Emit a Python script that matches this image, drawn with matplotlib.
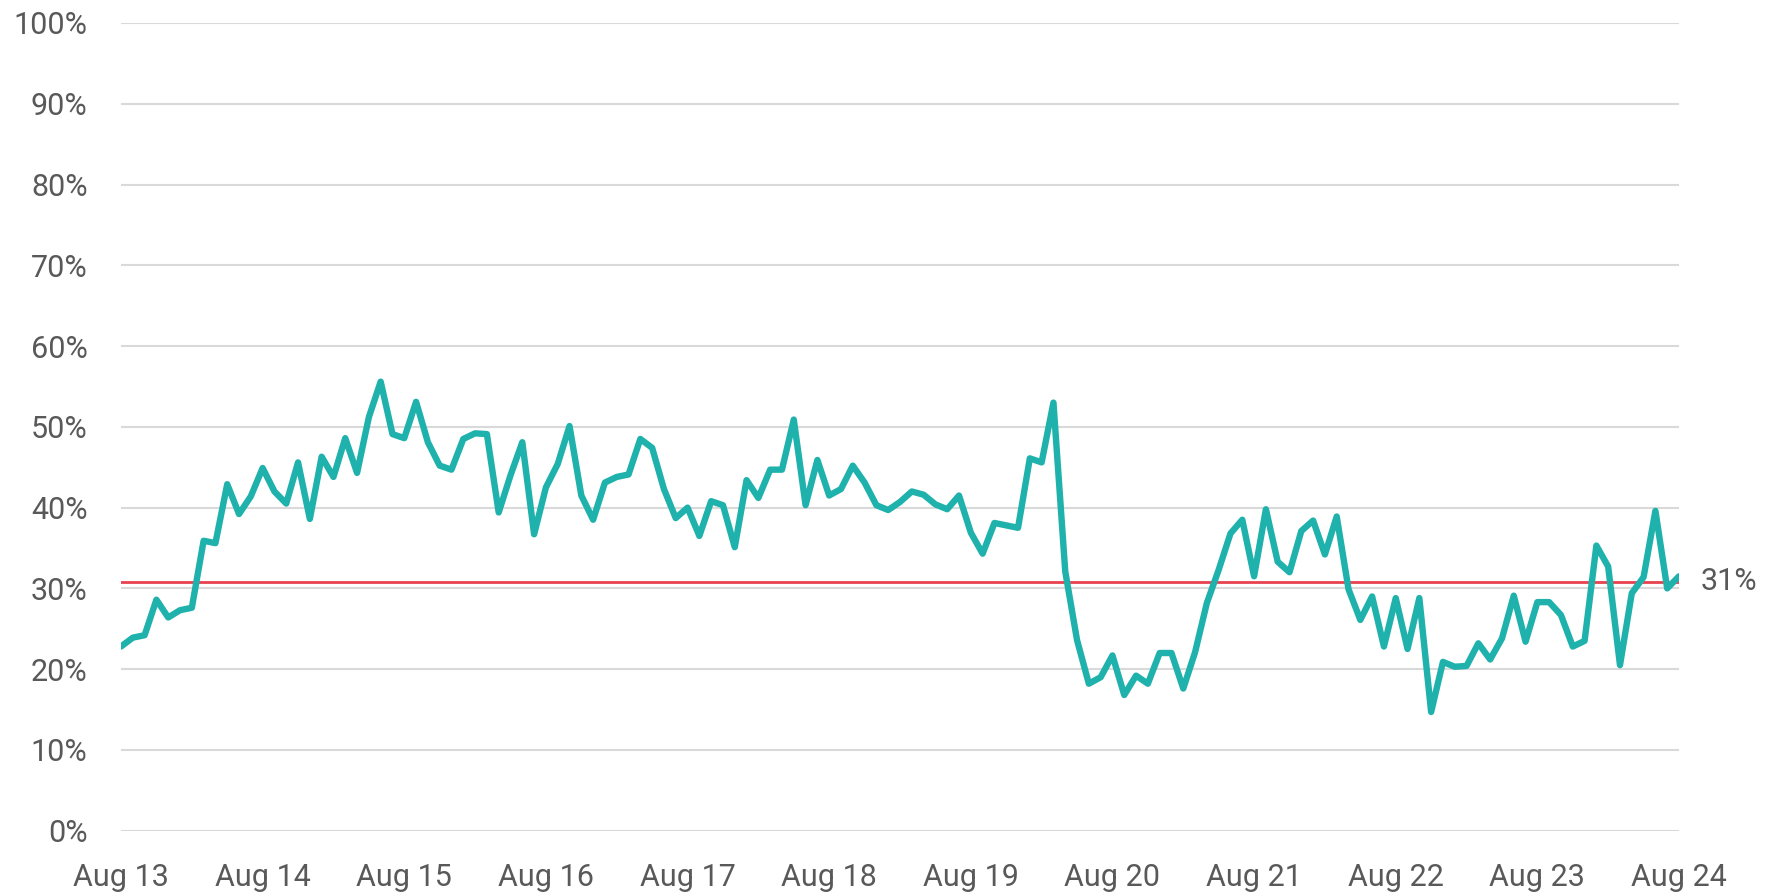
"""
Monthly share, Aug 2013 - Aug 2024, with long-run average line
"""

import numpy as np
import matplotlib.pyplot as plt

plt.rcParams['font.family'] = ['Roboto', 'DejaVu Sans']

# monthly values (%) from Aug 13 to Aug 24
values = [
    22.8, 23.9, 24.2, 28.6, 26.4, 27.3, 27.6, 35.9, 35.6, 42.9,
    39.2, 41.4, 44.9, 42.0, 40.5, 45.6, 38.6, 46.3, 43.8, 48.6,
    44.3, 51.2, 55.6, 49.1, 48.6, 53.1, 48.1, 45.2, 44.7, 48.5,
    49.2, 49.1, 39.4, 44.0, 48.1, 36.7, 42.5, 45.4, 50.1, 41.5,
    38.5, 43.1, 43.8, 44.1, 48.5, 47.4, 42.3, 38.7, 40.0, 36.5,
    40.8, 40.3, 35.1, 43.4, 41.2, 44.7, 44.7, 50.9, 40.3, 45.9,
    41.5, 42.3, 45.2, 43.1, 40.3, 39.7, 40.7, 42.0, 41.6, 40.4,
    39.8, 41.5, 36.9, 34.3, 38.1, 37.8, 37.5, 46.1, 45.6, 53.0,
    32.1, 23.6, 18.2, 19.0, 21.7, 16.8, 19.2, 18.2, 22.0, 22.0,
    17.6, 22.1, 28.2, 32.3, 36.8, 38.5, 31.5, 39.8, 33.3, 32.0,
    37.1, 38.4, 34.2, 38.9, 29.9, 26.1, 29.0, 22.8, 28.8, 22.5,
    28.8, 14.7, 20.9, 20.3, 20.4, 23.2, 21.2, 23.8, 29.1, 23.4,
    28.3, 28.3, 26.7, 22.8, 23.5, 35.3, 32.7, 20.5, 29.4, 31.4,
    39.6, 30.0, 31.5,
]
average = 30.8
x_labels = ['Aug 13', 'Aug 14', 'Aug 15', 'Aug 16', 'Aug 17', 'Aug 18',
            'Aug 19', 'Aug 20', 'Aug 21', 'Aug 22', 'Aug 23', 'Aug 24']
y_ticks = list(range(0, 101, 10))

TEAL = '#1fb1ac'
RED = '#e8414f'
GRID = '#d9d9d9'
TEXT = '#595959'


def main():
    fig = plt.figure(figsize=(17.85, 8.92), dpi=100)
    ax = fig.add_axes([121 / 1785, 1 - 830.7 / 892, (1679 - 121) / 1785, (830.7 - 23) / 892])

    months = np.arange(len(values))
    n = len(values) - 1

    for t in y_ticks:
        ax.axhline(t, color=GRID, linewidth=1.5, zorder=1)

    ax.axhline(average, color=RED, linewidth=2, zorder=2)
    ax.plot(months, values, color=TEAL, linewidth=4.6, solid_joinstyle='round',
            solid_capstyle='round', zorder=3)

    ax.text(n + 1.8, average, f'{average:.0f}%', ha='left', va='center',
            fontsize=22, color=TEXT)

    ax.set_xlim(0, n)
    ax.set_ylim(0, 100)
    ax.set_xticks(np.arange(0, n + 1, 12))
    ax.set_xticklabels(x_labels)
    ax.set_yticks(y_ticks)
    ax.set_yticklabels([f'{t}%' for t in y_ticks])
    ax.tick_params(axis='both', length=0, labelsize=22, labelcolor=TEXT)
    ax.tick_params(axis='y', pad=24)
    ax.tick_params(axis='x', pad=23)

    for s in ax.spines.values():
        s.set_visible(False)

    fig.savefig('out.png', dpi=100, facecolor='white')
    plt.close()


if __name__ == "__main__":
    main()
